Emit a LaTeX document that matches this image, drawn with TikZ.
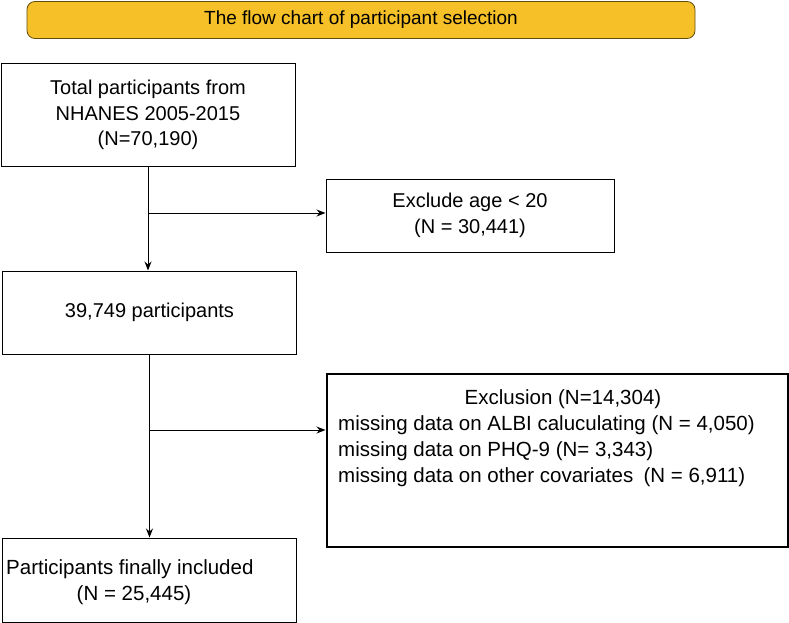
\documentclass[tikz,border=0pt]{standalone}
\usepackage{fontspec}
\setmainfont{Liberation Sans}
\usetikzlibrary{positioning,arrows.meta,calc}
\definecolor{TitleGold}{RGB}{246, 192, 40}

\begin{document}
\begin{tikzpicture}[x=1pt, y=-1pt,
    box/.style={rectangle, draw=black, fill=white, line width=1pt, font=\fontsize{20}{25.5}\selectfont, align=center},
    title/.style={rectangle, rounded corners=8pt, draw=black!60!TitleGold, fill=TitleGold, line width=0.8pt, font=\fontsize{19}{22}\selectfont},
    note/.style={font=\fontsize{20.5}{26}\selectfont, inner sep=0pt},
    arrow/.style={-{Stealth[length=9pt,width=7pt]}, line width=1pt}
]
    \useasboundingbox (0,0) rectangle (789,623);
    % Title
    \node[title, minimum width=668pt, minimum height=37pt] (head) at (361, 20) {The flow chart of participant selection};

    % Main column
    \node[box, minimum width=294pt, minimum height=102pt] (total) at (148, 115) {Total participants from\\NHANES 2005-2015\\(N=70,190)};
    \node[box, minimum width=294pt, minimum height=83pt] (after) at (149.5, 312.5) {39,749 participants};
    \node[box, minimum width=294pt, minimum height=84pt] (final) at (149.5, 580) {};
    \node[note, anchor=west] (finaltext) at (6, 569) {Participants finally included};
    \node[note] (finalnum) at (134, 595) {(N = 25,445)};

    % Exclusions
    \node[box, minimum width=288pt, minimum height=73pt] (age) at (470, 215.5) {Exclude age < 20\\(N = 30,441)};
    \node[box, line width=2pt, minimum width=461pt, minimum height=173pt] (excl) at (557, 460) {};
    \node[note] (excltitle) at (563, 399) {Exclusion (N=14,304)};
    \node[note, align=left, anchor=west] (excllist) at (338, 451)
        {missing data on ALBI caluculating (N = 4,050)\\missing data on PHQ-9 (N= 3,343)\\missing data on other covariates\enspace(N = 6,911)};

    % Arrows
    \coordinate (split1) at (148, 213);
    \coordinate (split2) at (149.5, 430);
    \draw[arrow] (total.south) -- (total.south |- after.north);
    \draw[arrow] (split1) -- (age.west |- split1);
    \draw[arrow] (after.south) -- (after.south |- final.north);
    \draw[arrow] (split2) -- (excl.west |- split2);
\end{tikzpicture}
\end{document}
